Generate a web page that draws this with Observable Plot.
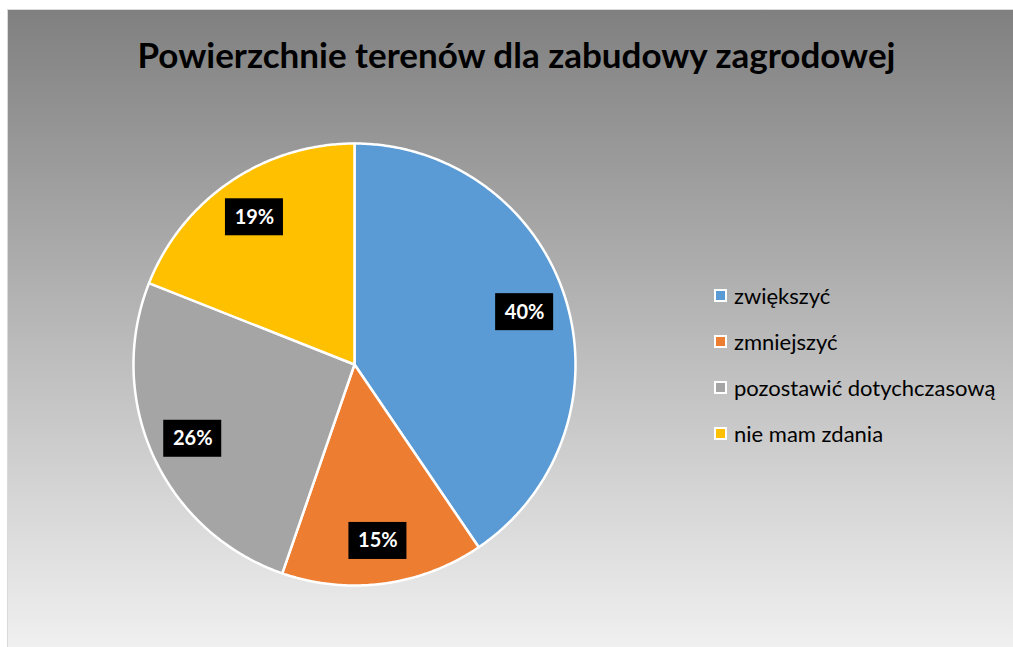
<!DOCTYPE html>
<html>
<head>
<meta charset="utf-8">
<script src="https://cdn.jsdelivr.net/npm/d3@7"></script>
<script src="https://cdn.jsdelivr.net/npm/@observablehq/plot@0.6"></script>
<style>
  html, body { margin: 0; padding: 0; background: #ffffff; width: 1013px; height: 647px; overflow: hidden; }
  #chart {
    position: absolute; left: 7px; top: 9px; width: 1010px; height: 640px;
    box-sizing: border-box; border: 1px solid #d9d9d9;
    background: linear-gradient(to bottom, #808080 0%, #f0f0f0 100%);
    font-family: Lato, "Open Sans", sans-serif;
  }
  #title {
    position: absolute; left: 2px; width: 1013px; top: 23px; text-align: center;
    font-weight: bold; font-size: 35px; color: #000; margin: 0;
  }
  #plot { position: absolute; left: 96px; top: 104px; }
  #legend { position: absolute; left: 706px; top: 262px; }
  .item { display: flex; align-items: center; height: 46px; font-size: 22px; color: #000; }
  .sw { width: 9px; height: 9px; border: 2px solid #fff; margin-right: 7px; }
</style>
</head>
<body>
<div id="chart">
  <div id="title">Powierzchnie terenów dla zabudowy zagrodowej</div>
  <div id="plot"></div>
  <div id="legend"></div>
</div>
<script>
const categories = ["zwiększyć", "zmniejszyć", "pozostawić dotychczasową", "nie mam zdania"];
const values = [40.5, 14.8, 25.7, 19.0];
const labels = ["40%", "15%", "26%", "19%"];
const colors = ["#5B9BD5", "#ED7D31", "#A5A5A5", "#FFC000"];

const R = 221;          // pie radius (px)
const LR = 178;         // label radius
const S = 500;          // svg size

const pie = d3.pie().sort(null).value(d => d.value)(categories.map((c, i) => ({name: c, value: values[i], label: labels[i]})));

// polygon points for each slice (center -> arc -> center)
const pts = [];
for (const p of pie) {
  const n = Math.max(2, Math.ceil((p.endAngle - p.startAngle) / 0.01));
  pts.push({name: p.data.name, x: 0, y: 0});
  for (let k = 0; k <= n; k++) {
    const a = p.startAngle + (p.endAngle - p.startAngle) * k / n;
    pts.push({name: p.data.name, x: R * Math.sin(a), y: R * Math.cos(a)});
  }
  pts.push({name: p.data.name, x: 0, y: 0});
}

const lab = pie.map(p => {
  const a = (p.startAngle + p.endAngle) / 2;
  return {label: p.data.label, x: LR * Math.sin(a), y: LR * Math.cos(a)};
});
const bw = 29, bh = 18.5;

const plot = Plot.plot({
  width: S, height: S,
  margin: 0,
  x: {domain: [-S/2, S/2], axis: null},
  y: {domain: [-S/2, S/2], axis: null},
  color: {domain: categories, range: colors},
  style: {background: "transparent", overflow: "visible"},
  marks: [
    Plot.line(pts, {x: "x", y: "y", z: "name", fill: "name", stroke: "#ffffff", strokeWidth: 2.5, curve: "linear", strokeLinejoin: "round"}),
    Plot.rect(lab, {x1: d => d.x - bw, x2: d => d.x + bw, y1: d => d.y - bh, y2: d => d.y + bh, fill: "#000"}),
    Plot.text(lab, {x: "x", y: "y", text: "label", fill: "#fff", fontSize: 20, fontWeight: "bold", fontFamily: "Lato, sans-serif"})
  ]
});
document.getElementById("plot").appendChild(plot);

const leg = document.getElementById("legend");
categories.forEach((c, i) => {
  const it = document.createElement("div");
  it.className = "item";
  const sw = document.createElement("span");
  sw.className = "sw";
  sw.style.background = colors[i];
  const t = document.createElement("span");
  t.textContent = c;
  it.appendChild(sw); it.appendChild(t);
  leg.appendChild(it);
});
</script>
</body>
</html>
